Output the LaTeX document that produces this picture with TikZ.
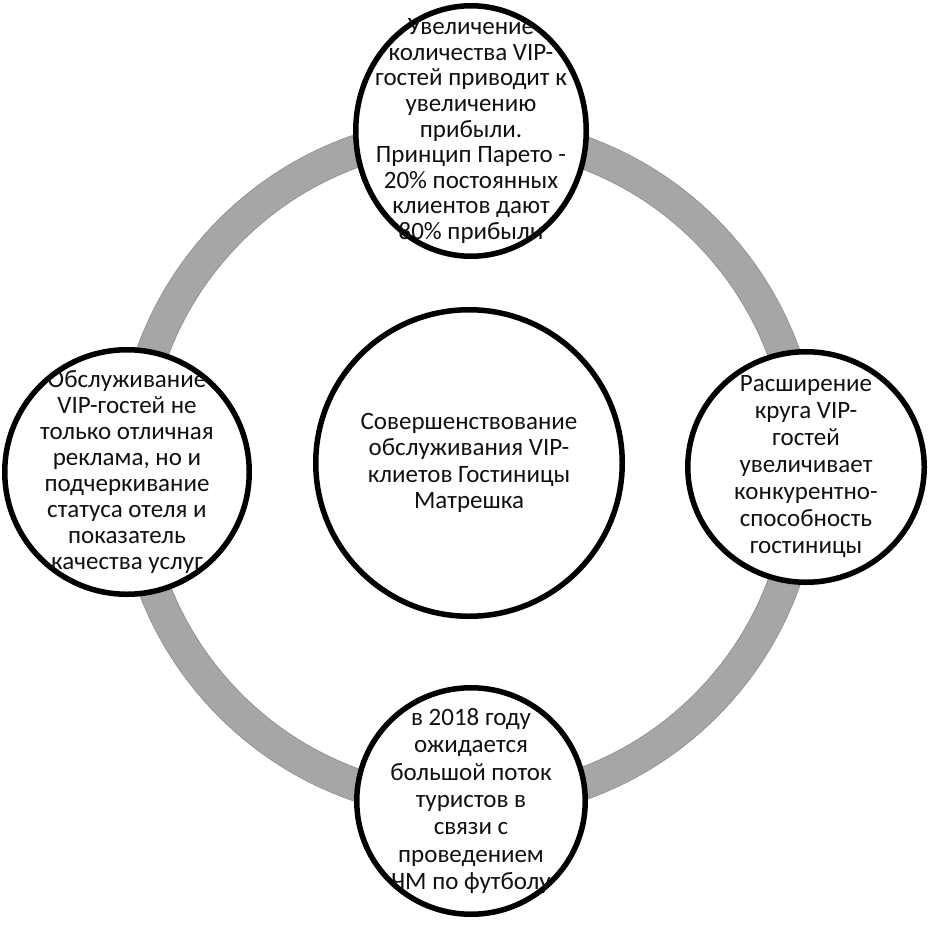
\documentclass[tikz,border=0pt]{standalone}
\usepackage{fontspec}
\setmainfont{Carlito}
\usetikzlibrary{shapes.geometric,shadows}
\definecolor{ringgray}{HTML}{A6A6A6}
\definecolor{ringedge}{HTML}{8C8C8C}
\definecolor{inkgray}{HTML}{111111}

\begin{document}
\begin{tikzpicture}[x=1pt,y=-1pt]
       \tikzstyle{bubble}=[ellipse, draw=black, line width=5.5pt, fill=white, inner sep=0pt,
                           drop shadow={opacity=0.2, shadow xshift=0pt, shadow yshift=-3pt}]
       \tikzstyle{txt}=[align=center, inner sep=0pt, text=inkgray, font=\fontsize{25}{26.5}\selectfont]
       \useasboundingbox (0,0) rectangle (930,931);

       % ring
       \coordinate (c) at (468,468);
       \fill[ringgray, even odd rule] (c) circle[radius=352] (c) circle[radius=320];
       \draw[ringedge, line width=0.6pt] (c) circle[radius=352] (c) circle[radius=320];

       % circles
       \node[bubble, minimum width=230.5pt, minimum height=250.5pt] (top)    at (471,131) {};
       \node[bubble, minimum width=236.5pt, minimum height=230.5pt] (right)  at (806,467) {};
       \node[bubble, minimum width=228.5pt, minimum height=226.5pt] (bottom) at (471,801) {};
       \node[bubble, minimum width=244.5pt, minimum height=244.5pt] (left)   at (127,472) {};
       \node[bubble, minimum width=306.5pt, minimum height=306.5pt] (centre) at (469,463) {};

       % texts
       \node[txt, font=\fontsize{25}{25.6}\selectfont] (top-t) at (top) {Увеличение\\количества VIP-\\гостей приводит к\\увеличению\\прибыли.\\Принцип Парето -\\20\% постоянных\\клиентов дают\\80\% прибыли};
       \node[txt, font=\fontsize{25}{27}\selectfont] (right-t) at (right) {Расширение\\круга VIP-\\гостей\\увеличивает\\конкурентно-\\способность\\гостиницы};
       \node[txt, font=\fontsize{25}{27.3}\selectfont] (bottom-t) at (bottom) {в 2018 году\\ожидается\\большой поток\\туристов в\\связи с\\проведением\\ЧМ по футболу};
       \node[txt, font=\fontsize{25}{26}\selectfont] (left-t) at (left) {Обслуживание\\VIP-гостей не\\только отличная\\реклама, но и\\подчеркивание\\статуса отеля и\\показатель\\качества услуг};
       \node[txt] (centre-t) at (centre) {Совершенствование\\обслуживания VIP-\\клиетов Гостиницы\\Матрешка};
\end{tikzpicture}
\end{document}
